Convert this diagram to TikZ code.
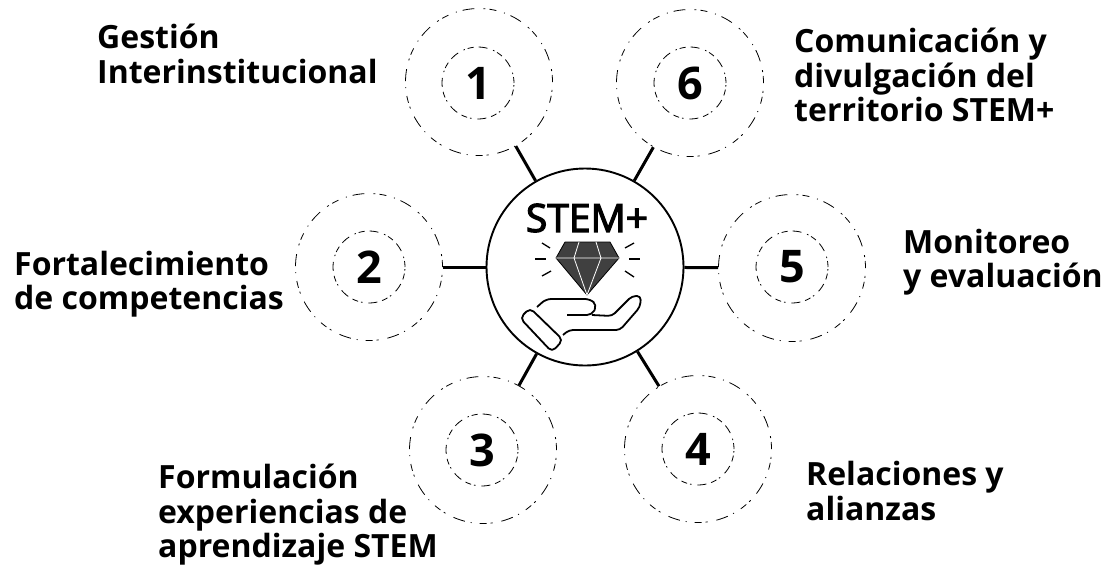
\documentclass[tikz,border=0pt]{standalone}
\usepackage{fontspec}
\setmainfont{Open Sans}
\newfontfamily\stemfont[FakeBold=3]{Open Sans}
\tikzset{
    outerring/.style={circle,draw=black,line width=0.8pt,dash pattern=on 7pt off 4pt on 2pt off 9pt on 12pt off 6pt on 1pt off 8pt,minimum size=147pt,inner sep=0pt},
    innerring/.style={circle,draw=black,line width=0.8pt,dash pattern=on 6pt off 3pt on 1.5pt off 6pt on 9pt off 5pt,minimum size=72pt,inner sep=0pt,font=\fontsize{45}{45}\selectfont\bfseries},
    hubring/.style={circle,draw=black,line width=1.9pt,minimum size=197pt,inner sep=0pt},
    spoke/.style={line width=3pt,black},
    sparkle/.style={line width=1.3pt,black},
    handline/.style={line width=1.8pt,black,line join=round},
    caption/.style={anchor=west,align=left,inner sep=0pt,font=\fontsize{32}{34.5}\selectfont\bfseries}
}
\begin{document}
\begin{tikzpicture}[x=1pt,y=-1pt]
	    \useasboundingbox (0,0) rectangle (1110,566);

	    \node[hubring] (hub) at (585,267) {};
	    \node[font=\fontsize{39}{39}\selectfont\stemfont] (stem) at (587,218) {STEM+};

	    \node[outerring] (r1) at (479,82) {};
	    \node[outerring] (r2) at (369,267) {};
	    \node[outerring] (r3) at (483,450) {};
	    \node[outerring] (r4) at (698,449) {};
	    \node[outerring] (r5) at (792,268) {};
	    \node[outerring] (r6) at (690,83) {};

	    \node[innerring] (n1) at (478,83) {1};
	    \node[innerring] (n2) at (369,267) {2};
	    \node[innerring] (n3) at (482,450) {3};
	    \node[innerring] (n4) at (698,449) {4};
	    \node[innerring] (n5) at (792,267) {5};
	    \node[innerring] (n6) at (690,83) {6};

	    \draw[spoke] (hub) -- (r1);
	    \draw[spoke] (hub) -- (r2);
	    \draw[spoke] (hub) -- (r3);
	    \draw[spoke] (hub) -- (r4);
	    \draw[spoke] (hub) -- (r5);
	    \draw[spoke] (hub) -- (r6);

	    \node[caption] (t1) at (97,54) {Gestión\\Interinstitucional};
	    \node[caption] (t2) at (14,284) {Fortalecimiento\\de competencias};
	    \node[caption] (t3) at (158,515) {Formulación\\experiencias de\\aprendizaje STEM};
	    \node[caption] (t4) at (806,491) {Relaciones y\\alianzas};
	    \node[caption] (t5) at (903,262) {Monitoreo\\y evaluación};
	    \node[caption] (t6) at (794,75) {Comunicación y\\divulgación del\\territorio STEM+};

	    % diamante
	    \filldraw[draw=black,fill=black!75,line width=0.8pt,line join=round] (565,242) -- (610,242) -- (619,258) -- (587,295) -- (556,258) -- cycle;
	    \draw[white,line width=0.8pt] (556,258) -- (619,258) (574,258) -- (587,295) -- (601,258) (579,242) -- (574,258) (596,242) -- (601,258);

	    \draw[sparkle] (542,243) -- (550,248);
	    \draw[sparkle] (535,259) -- (546,259);
	    \draw[sparkle] (542,276) -- (551,271);
	    \draw[sparkle] (625,248) -- (634,243);
	    \draw[sparkle] (629,259) -- (640,259);
	    \draw[sparkle] (625,271) -- (634,277);

	    % mano
	    \draw[handline,rounded corners=5pt] (530,308) -- (563,340) -- (552,352) -- (520,318) -- cycle;
	    \draw[handline,rounded corners=5pt] (537,307) -- (546,299) -- (590,299) -- (597,305) -- (592,315) -- (567,315);
	    \draw[handline,rounded corners=4pt] (592,315) -- (612,316) -- (632,296) -- (641,296) -- (640,307) -- (620,330) -- (569,330) -- (563,335);
\end{tikzpicture}
\end{document}
